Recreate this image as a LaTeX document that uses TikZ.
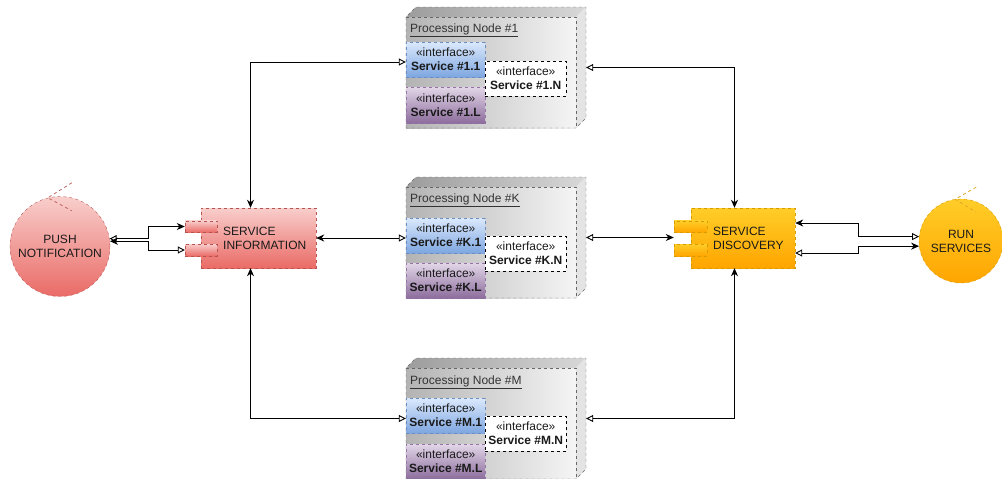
\documentclass[tikz,border=0pt]{standalone}
\usepackage{fontspec}
\setmainfont{Liberation Sans}
\usetikzlibrary{arrows.meta,calc}
\definecolor{redT}{HTML}{F8CECC}\definecolor{redB}{HTML}{EA6B66}\definecolor{redS}{HTML}{B85450}
\definecolor{orT}{HTML}{FFCD28}\definecolor{orB}{HTML}{FFA500}\definecolor{orS}{HTML}{D79B00}
\definecolor{blT}{HTML}{DAE8FC}\definecolor{blB}{HTML}{7EA6E0}\definecolor{blS}{HTML}{6C8EBF}
\definecolor{puT}{HTML}{E1D5E7}\definecolor{puB}{HTML}{8C6C9C}\definecolor{puS}{HTML}{9673A6}
\definecolor{boxL}{HTML}{B3B3B3}\definecolor{boxR}{HTML}{F5F5F5}\definecolor{boxS}{HTML}{666666}
\definecolor{topL}{HTML}{9C9C9C}\definecolor{topR}{HTML}{D8D8D8}\definecolor{sideC}{HTML}{E4E4E4}
\definecolor{txtC}{HTML}{1A1A1A}\definecolor{titleC}{HTML}{333333}
\tikzset{
  FA/.tip={Stealth[length=8pt,width=7pt,inset=2.5pt]},
  OA/.tip={Triangle[open,length=7pt,width=7pt]},
  dsh/.style={dash pattern=on 3pt off 3pt},
  conn/.style={draw=black, line width=0.9pt},
  txt/.style={text=txtC, inner sep=0pt, align=left},
  redbox/.style={draw=redS, dsh, top color=redT, bottom color=redB, inner sep=0pt},
  orbox/.style={draw=orS, dsh, top color=orT, bottom color=orB, inner sep=0pt},
  bluebox/.style={draw=blS, dsh, top color=blT, bottom color=blB, inner sep=0pt, align=center, text=txtC, minimum width=79pt, anchor=north west},
  purplebox/.style={draw=puS, dsh, top color=puT, bottom color=puB, inner sep=0pt, align=center, text=txtC, minimum width=79pt, anchor=north west},
  whitebox/.style={draw=black, dsh, fill=white, inner sep=0pt, align=center, text=txtC, minimum width=81pt, minimum height=35pt, anchor=north west},
  frame/.style={inner sep=0pt, minimum width=180pt, minimum height=121pt},
}
% #1 name, #2 outer top y, #3 id, #4 title y, #5 blue top, #6 purple top, #7 white top, #8 purple height
\newcommand{\procnode}[8]{%
  \shade[left color=boxL, right color=boxR] (406,#2+10) rectangle (576,#2+121);
  \shade[left color=topL, right color=topR] (406,#2+10) -- (416,#2) -- (586,#2) -- (576,#2+10) -- cycle;
  \fill[sideC] (576,#2+10) -- (586,#2) -- (586,#2+111) -- (576,#2+121) -- cycle;
  \draw[boxS, dsh] (406,#2+121) -- (406,#2+10) -- (416,#2) -- (586,#2) -- (586,#2+111) -- (576,#2+121) -- cycle;
  \draw[boxS, dsh] (406,#2+10) -- (576,#2+10) -- (576,#2+121);
  \node[frame] (#1) at (496,#2+60.5) {};
  \node[anchor=west, inner sep=0pt, text=titleC] (#1-title) at (410,#4) {\underline{Processing Node \##3}};
  \node[bluebox, minimum height=35pt] (#1-a) at (406,#5) {«interface»\\\textbf{Service \##3.1}};
  \node[purplebox, minimum height=#8pt] (#1-b) at (406,#6) {«interface»\\\textbf{Service \##3.L}};
  \node[whitebox] (#1-c) at (485,#7) {«interface»\\\textbf{Service \##3.N}};
}
\begin{document}
\begin{tikzpicture}[x=1pt,y=-1pt,font=\fontsize{12}{14}\selectfont]
\useasboundingbox (0,0) rectangle (1002,479);
\clip (0,0) rectangle (1002,479);

% processing nodes
\procnode{n1}{7}{1}{30}{42}{87}{61}{36}
\procnode{nk}{177}{K}{200}{218}{263}{236}{35}
\procnode{nm}{358}{M}{382}{398}{444}{416}{35}

% service information
\node[inner sep=0pt, minimum width=131pt, minimum height=60pt] (si) at (250.5,238) {};
\node[redbox, minimum width=115pt, minimum height=60pt] (si-body) at (258.5,238) {};
\node[redbox, minimum width=32pt, minimum height=11.5pt] (si-p1) at (201,226.5) {};
\node[redbox, minimum width=32pt, minimum height=12pt] (si-p2) at (201,250) {};
\node[txt, anchor=west] (si-text) at (223,238) {SERVICE\\INFORMATION};

% service discovery
\node[inner sep=0pt, minimum width=121pt, minimum height=60pt] (sd) at (734.5,238) {};
\node[orbox, minimum width=104pt, minimum height=60pt] (sd-body) at (743,238) {};
\node[orbox, minimum width=33pt, minimum height=11.5pt] (sd-p1) at (690.5,226.5) {};
\node[orbox, minimum width=33pt, minimum height=12pt] (sd-p2) at (690.5,250) {};
\node[txt, anchor=west] (sd-text) at (713,238) {SERVICE\\DISCOVERY};

% circles
\node[circle, redbox, minimum size=100pt, align=center, text=txtC] (push) at (60,246.5) {PUSH\\NOTIFICATION};
\draw[redS!90, dsh, line width=0.8pt] ($(push.104)+(24,-15)$) -- (push.104) -- ($(push.104)+(24,13)$);
\node[circle, orbox, minimum size=84pt, align=center, text=txtC] (run) at (961,241) {RUN\\SERVICES};
\draw[orS!85, dsh, line width=0.8pt] ($(run.98)+(21,-12)$) -- (run.98) -- ($(run.98)+(21,13)$);

% connectors
\draw[conn, {OA}-{FA}] (push.9) -- ++(38.5,0) |- (si-p1.west);
\draw[conn, {FA}-{OA}] (push.6) -- ++(38.5,0) |- (si-p2.west);

\draw[conn, {FA}-{OA}] (si.north) |- ($(n1.west)+(0,-5.5)$);
\draw[conn, {FA}-{OA}] (si.east) -- (si.east -| nk.west);
\draw[conn, {FA}-{OA}] (si.south) |- (nm.west);

\draw[conn, {FA}-{OA}] (sd.north) |- (n1.east);
\draw[conn, {OA}-{FA}] (nk.east) -- (nk.east -| sd.west);
\draw[conn, {FA}-{OA}] (sd.south) |- (nm.east);

\draw[conn, {FA}-{OA}] ($(sd.east)+(0,-15)$) -- ++(63,0) |- (run.174.5);
\draw[conn, {OA}-{FA}] ($(sd.east)+(0,15)$) -- ++(63,0) |- (run.187);
\end{tikzpicture}
\end{document}
